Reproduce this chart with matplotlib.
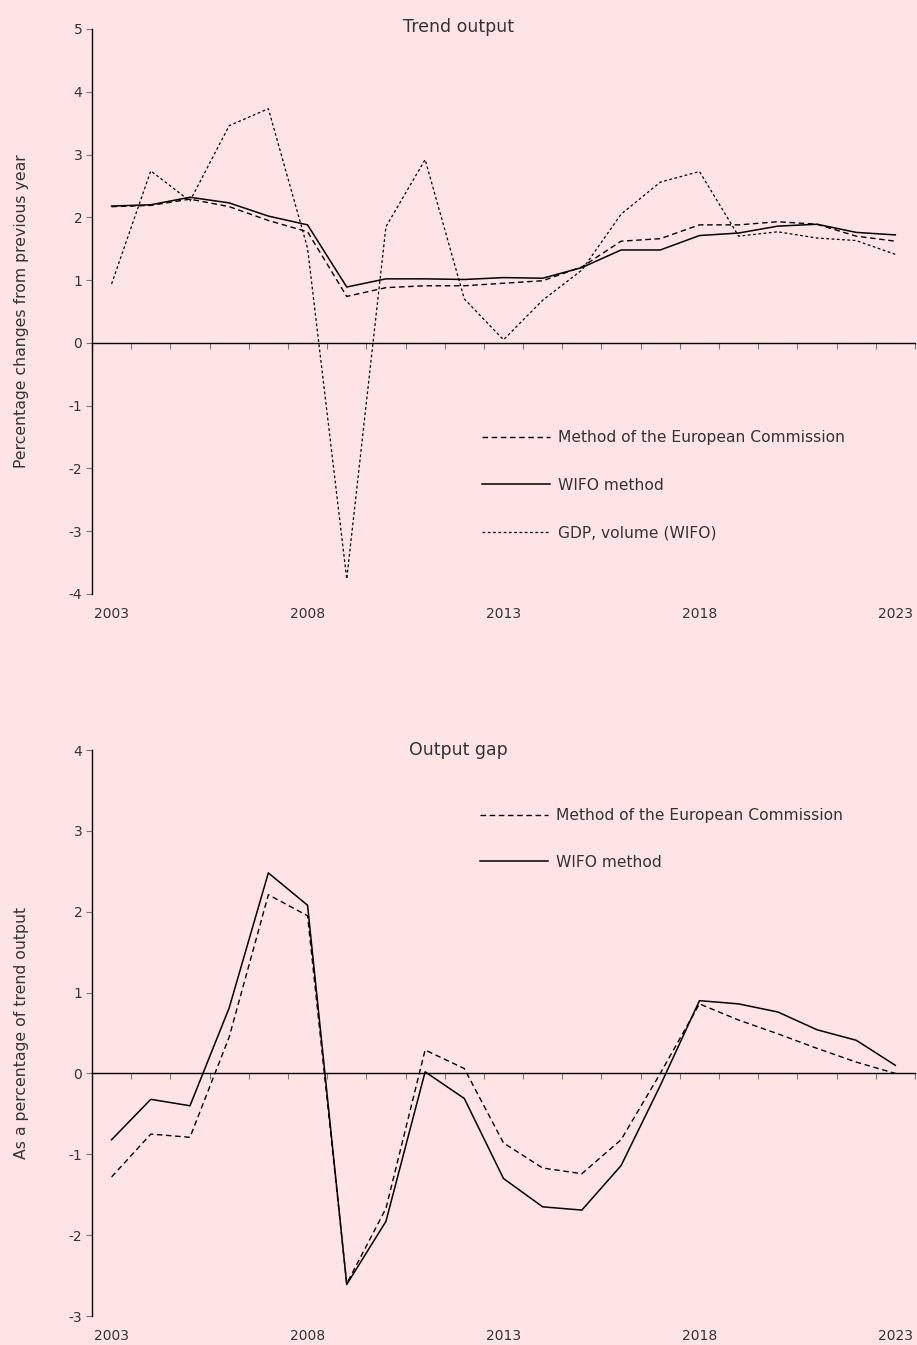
import numpy as np
import matplotlib
matplotlib.use("Agg")
import matplotlib.pyplot as plt
from matplotlib.transforms import blended_transform_factory

plt.rcParams.update({"font.family": "DejaVu Sans", "font.size": 10,
                     "lines.scale_dashes": False})

BG = "#ffe4e6"
TXT = "#333333"

years = list(range(2003, 2024))

# Trend output, percentage changes from previous year
trend_ec = [2.17, 2.19, 2.29, 2.17, 1.95, 1.77, 0.74, 0.88, 0.91, 0.91, 0.95,
            0.99, 1.21, 1.62, 1.66, 1.88, 1.88, 1.93, 1.89, 1.70, 1.62]
trend_wifo = [2.18, 2.20, 2.32, 2.23, 2.02, 1.88, 0.89, 1.02, 1.02, 1.01, 1.04,
              1.03, 1.20, 1.48, 1.48, 1.71, 1.75, 1.86, 1.89, 1.76, 1.72]
gdp_volume = [0.94, 2.74, 2.26, 3.46, 3.73, 1.51, -3.76, 1.85, 2.92, 0.70, 0.05,
              0.68, 1.16, 2.05, 2.56, 2.73, 1.70, 1.77, 1.67, 1.63, 1.41]

# Output gap, as a percentage of trend output
gap_ec = [-1.28, -0.75, -0.79, 0.45, 2.21, 1.95, -2.60, -1.67, 0.29, 0.06, -0.86,
          -1.17, -1.24, -0.82, 0.00, 0.86, 0.66, 0.49, 0.31, 0.14, 0.00]
gap_wifo = [-0.82, -0.32, -0.40, 0.81, 2.48, 2.08, -2.61, -1.83, 0.02, -0.31, -1.30,
            -1.65, -1.69, -1.14, -0.15, 0.90, 0.86, 0.76, 0.54, 0.41, 0.10]

label_years = [2003, 2008, 2013, 2018, 2023]

DASH_EC = (0, (4.0, 2.6))
DASH_GDP = (0, (2.0, 1.8))
LEG_FS = 11.2

fig = plt.figure(figsize=(9.17, 13.45), dpi=100, facecolor=BG)
W, H = 917, 1345


def make_axes(top_px, bot_px):
    return fig.add_axes([92 / W, 1 - bot_px / H, (915 - 92) / W, (bot_px - top_px) / H])


def style(ax, ylo, yhi, ylabel):
    x = np.arange(len(years))
    ax.set_facecolor(BG)
    ax.set_xlim(-0.5, len(years) - 0.5)
    ax.set_ylim(ylo, yhi)
    for s in ["top", "right"]:
        ax.spines[s].set_visible(False)
    ax.spines["left"].set_linewidth(1.0)
    ax.spines["bottom"].set_position(("data", 0))
    ax.spines["bottom"].set_linewidth(1.0)
    ax.set_xticks(np.arange(-0.5, len(years), 1.0))
    ax.set_xticklabels([])
    ax.tick_params(axis="x", direction="out", length=4, width=0.8, color="#777777")
    ax.set_yticks(np.arange(ylo, yhi + 1))
    ax.set_yticklabels([f"{v:d}" for v in range(ylo, yhi + 1)], color=TXT)
    ax.tick_params(axis="y", direction="out", length=4, width=0.8, color="#777777", pad=3)
    trans = blended_transform_factory(ax.transData, ax.transAxes)
    for yr in label_years:
        ax.text(years.index(yr), -0.036, str(yr), transform=trans, ha="center",
                va="center", color=TXT)
    ax.set_ylabel(ylabel, color=TXT, fontsize=11.3)
    ax.yaxis.set_label_coords(-0.076, 0.5)
    return x


# ---------------- Trend output ----------------
ax = make_axes(29, 594)
x = style(ax, -4, 5, "Percentage changes from previous year")
ax.plot(x, trend_ec, color="black", lw=1.0, ls=DASH_EC, label="Method of the European Commission")
ax.plot(x, trend_wifo, color="black", lw=1.1, label="WIFO method")
ax.plot(x, gdp_volume, color="black", lw=0.9, ls=DASH_GDP, label="GDP, volume (WIFO)")
fig.text(0.5, 1 - 27 / H, "Trend output", ha="center", va="center", fontsize=12.5, color=TXT)
ax.legend(loc="upper left", bbox_to_anchor=((482 - 92) / 823, (594 - 430) / 565),
          frameon=False, handlelength=68 / 15.6, handletextpad=0.5, labelspacing=2.1,
          borderpad=0, borderaxespad=0, labelcolor=TXT, fontsize=LEG_FS)

# ---------------- Output gap ----------------
ax = make_axes(750, 1316)
x = style(ax, -3, 4, "As a percentage of trend output")
ax.plot(x, gap_ec, color="black", lw=1.0, ls=DASH_EC, label="Method of the European Commission")
ax.plot(x, gap_wifo, color="black", lw=1.1, label="WIFO method")
fig.text(0.5, 1 - 750 / H, "Output gap", ha="center", va="center", fontsize=12.5, color=TXT)
ax.legend(loc="upper left", bbox_to_anchor=((480 - 92) / 823, (1316 - 808) / 566),
          frameon=False, handlelength=68 / 15.6, handletextpad=0.5, labelspacing=2.05,
          borderpad=0, borderaxespad=0, labelcolor=TXT, fontsize=LEG_FS)

fig.savefig("out.png", dpi=100, facecolor=BG)
